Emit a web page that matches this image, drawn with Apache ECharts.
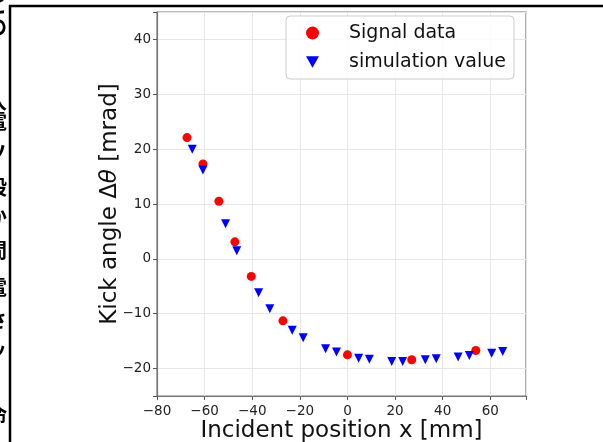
<!DOCTYPE html>
<html>
<head>
    <meta charset="utf-8">
    <title>Kick angle</title>
    <style>
        html, body { margin: 0; padding: 0; background: #fff; }
        #chart { width: 603px; height: 442px; }
    </style>
</head>
<body>
    <div id="chart"></div>
    <script src="https://cdn.jsdelivr.net/npm/echarts@6/dist/echarts.min.js"></script>
    <script>
        // data
        var signalX = [-67.4, -60.7, -54.0, -47.3, -40.4, -27.1, 0.0, 27.0, 53.9];
        var signalY = [22.1, 17.3, 10.5, 3.1, -3.2, -11.3, -17.5, -18.4, -16.7];
        var simX = [-65.2, -60.7, -51.2, -46.5, -37.3, -32.6, -23.2, -18.6, -9.2, -4.6,
                    4.7, 9.2, 18.6, 23.2, 32.7, 37.3, 46.5, 51.2, 60.6, 65.2];
        var simY = [20.0, 16.2, 6.4, 1.5, -6.2, -9.1, -13.0, -14.4, -16.4, -17.0,
                    -18.1, -18.3, -18.7, -18.7, -18.4, -18.2, -17.9, -17.6, -17.2, -16.9];
        var seriesNames = ['Signal data', 'simulation value'];
        // cut-off characters of the surrounding page text on the left edge
        var sideChars = ['と', 'の', '入', '電', 'ソ', '段', 'か', '間', '電', 'さ', 'ッ', '命'];
        var sideCharY = [6, 28, 102, 122, 153, 188, 218, 251, 288, 321, 350, 416];

        function pairs(xs, ys) {
            return xs.map(function (x, i) { return [x, ys[i]]; });
        }
        function minus(v) {
            return String(v).replace('-', '\u2212');
        }

        var font = 'DejaVu Sans';
        var downTriangle = 'path://M0,0L10,0L5,9Z';
        var chart = echarts.init(document.getElementById('chart'));

        var graphics = [
            { type: 'line', shape: { x1: 9, y1: 6, x2: 603, y2: 6 }, style: { stroke: '#000', lineWidth: 2.5 } },
            { type: 'line', shape: { x1: 10, y1: 5, x2: 10, y2: 442 }, style: { stroke: '#000', lineWidth: 2.5 } }
        ];
        sideChars.forEach(function (c, i) {
            graphics.push({
                type: 'text', left: -13, top: sideCharY[i] - 11,
                style: { text: c, fontSize: 20, fontFamily: 'Noto Sans CJK JP', fontWeight: 'bold', fill: '#000' }
            });
        });

        var option = {
            animation: false,
            backgroundColor: '#fff',
            graphic: graphics,
            grid: {
                left: 157, top: 12, right: 77, bottom: 46,
                outerBoundsMode: 'none',
                containLabel: false,
                show: true, borderColor: '#777', borderWidth: 1.2
            },
            legend: {
                data: [seriesNames[0], { name: seriesNames[1], icon: downTriangle }],
                orient: 'vertical',
                left: 286, top: 16,
                padding: [7, 8, 7, 20],
                itemGap: 9,
                itemWidth: 13, itemHeight: 13,
                backgroundColor: 'rgba(255,255,255,0.85)',
                borderColor: '#ccc', borderWidth: 1, borderRadius: 4,
                textStyle: { fontFamily: font, fontSize: 19, color: '#111', lineHeight: 20, padding: [0, 0, 0, 25] }
            },
            xAxis: {
                type: 'value',
                min: -80, max: 75, interval: 20,
                name: 'Incident position x [mm]',
                nameLocation: 'middle', nameGap: 24,
                nameMoveOverlap: false,
                nameTextStyle: { fontFamily: font, fontSize: 23, color: '#111' },
                axisLine: { show: true, onZero: false, lineStyle: { color: '#777', width: 1.2 } },
                axisTick: { show: true, length: 4, lineStyle: { color: '#555' } },
                axisLabel: {
                    fontFamily: font, fontSize: 13.5, color: '#222', margin: 8,
                    formatter: function (v) { return v % 20 === 0 ? minus(v) : ''; }
                },
                splitLine: { show: true, lineStyle: { color: '#e6e6e6', width: 1 } }
            },
            yAxis: {
                type: 'value',
                min: -25, max: 45, minInterval: 10, maxInterval: 10,
                name: 'Kick angle {d|Δ}{i|θ} [mrad]',
                nameLocation: 'middle', nameGap: 35,
                nameMoveOverlap: false,
                nameTextStyle: {
                    fontFamily: font, fontSize: 23, color: '#111',
                    rich: {
                        d: { fontFamily: font, fontSize: 23, color: '#111' },
                        i: { fontFamily: font, fontSize: 23, color: '#111', fontStyle: 'italic' }
                    }
                },
                axisLine: { show: true, onZero: false, lineStyle: { color: '#777', width: 1.2 } },
                axisTick: { show: true, length: 4, lineStyle: { color: '#555' } },
                axisLabel: {
                    fontFamily: font, fontSize: 13.5, color: '#222', margin: 6,
                    formatter: function (v) { return v % 10 === 0 ? minus(v) : ''; }
                },
                splitLine: { show: true, lineStyle: { color: '#e6e6e6', width: 1 } }
            },
            series: [
                {
                    name: seriesNames[0],
                    type: 'scatter',
                    symbol: 'circle',
                    symbolSize: 9,
                    itemStyle: { color: '#ff0000', opacity: 1 },
                    data: pairs(signalX, signalY)
                },
                {
                    name: seriesNames[1],
                    type: 'scatter',
                    symbol: 'triangle',
                    symbolRotate: 180,
                    symbolSize: 9,
                    itemStyle: { color: '#0000ff', opacity: 1 },
                    data: pairs(simX, simY)
                }
            ]
        };
        chart.setOption(option);
    </script>
</body>
</html>
